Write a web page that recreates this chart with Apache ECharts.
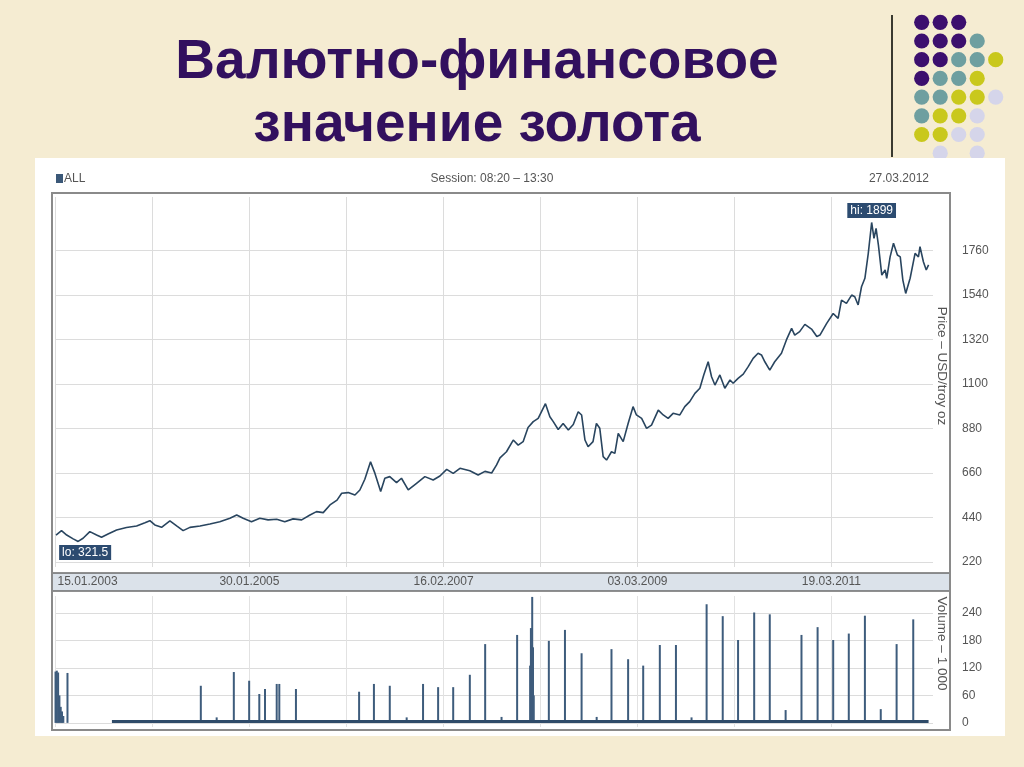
<!DOCTYPE html>
<html><head><meta charset="utf-8">
<script src="https://cdn.jsdelivr.net/npm/echarts@6/dist/echarts.min.js"></script>
<style>html,body{margin:0;padding:0;background:#f5ecd2;}#c{width:1024px;height:767px;}</style>
</head><body><div id="c"></div><script>
// ---- data ----
const priceDates = ['2003-01-17','2003-02-07','2003-02-27','2003-03-24','2003-04-12','2003-05-01','2003-05-27','2003-06-22','2003-07-11','2003-08-05','2003-09-07','2003-10-15','2003-11-23','2003-12-25',
'2004-01-13','2004-02-01','2004-02-27','2004-03-30','2004-04-25','2004-05-20','2004-06-15','2004-07-24','2004-08-31','2004-10-08','2004-11-16','2004-12-12',
'2005-01-06','2005-02-07','2005-03-11','2005-04-12','2005-05-15','2005-06-15','2005-07-17','2005-08-19','2005-09-20','2005-10-15','2005-11-10','2005-12-06',
'2006-01-02','2006-01-20','2006-02-14','2006-03-12','2006-03-31','2006-04-19','2006-05-11','2006-05-28','2006-06-19','2006-07-05','2006-07-24','2006-08-19','2006-09-07','2006-10-03','2006-11-04','2006-12-06',
'2007-01-07','2007-02-02','2007-02-28','2007-03-25','2007-04-20','2007-05-28','2007-06-29','2007-07-25','2007-08-20','2007-09-08','2007-09-21','2007-10-16','2007-11-11','2007-11-30','2007-12-19',
'2008-01-07','2008-01-27','2008-02-15','2008-03-14','2008-03-31','2008-04-13','2008-05-02','2008-05-21','2008-06-10','2008-06-29','2008-07-18','2008-07-31','2008-08-13','2008-08-25','2008-09-13','2008-09-26','2008-10-09','2008-10-22','2008-11-04','2008-11-23','2008-12-06','2008-12-19',
'2009-01-07','2009-01-26','2009-02-14','2009-02-27','2009-03-19','2009-04-07','2009-04-26','2009-05-22','2009-06-10','2009-06-29','2009-07-18','2009-08-13','2009-09-01','2009-09-20','2009-10-10','2009-10-29','2009-11-13','2009-11-30','2009-12-13','2009-12-26',
'2010-01-14','2010-02-02','2010-02-22','2010-03-06','2010-03-25','2010-04-14','2010-05-03','2010-05-22','2010-06-10','2010-06-23','2010-07-06','2010-07-25','2010-08-13','2010-09-08','2010-09-27','2010-10-17','2010-10-29','2010-11-17','2010-12-07',
'2011-01-03','2011-01-22','2011-02-03','2011-03-01','2011-03-26','2011-04-14','2011-04-27','2011-05-16','2011-06-05','2011-06-17','2011-06-30','2011-07-13','2011-07-26','2011-08-08','2011-08-21','2011-08-30','2011-09-07','2011-09-16','2011-09-29','2011-10-12','2011-10-18','2011-10-31','2011-11-13','2011-11-28','2011-12-09','2011-12-19','2011-12-30',
'2012-01-16','2012-02-04','2012-02-17','2012-02-23','2012-03-07','2012-03-18','2012-03-27'];
const priceValues = [353,375,353,334,321.5,337,370,353,342,358,378,390,398,414,
424,403,391,423,398,375,391,398,408,419,436,452,
436,419,436,428,431,419,433,428,452,469,464,502,
526,560,563,551,576,629,715,658,568,634,642,612,634,576,609,642,
625,645,678,658,683,671,650,668,660,700,735,765,823,798,815,
885,914,930,1003,938,914,875,905,873,900,963,947,823,790,815,905,881,741,724,765,757,856,
815,905,988,947,930,881,897,971,947,930,955,947,988,1013,1054,1079,1145,1210,1136,1095,
1145,1079,1120,1104,1128,1149,1186,1227,1252,1244,1210,1169,1210,1252,1318,1375,1342,1359,1395,
1370,1335,1342,1400,1449,1425,1515,1499,1540,1532,1491,1581,1623,1746,1899,1820,1870,1787,1639,1664,1623,1729,1796,1738,1729,1614,1548,
1623,1746,1729,1779,1705,1664,1689];

const volumeDates = ['2003-01-15','2003-01-20','2003-01-25','2003-01-30','2003-02-04','2003-02-09','2003-02-14','2003-03-02',
'2004-07-27','2004-09-26','2004-12-01',
'2005-01-29','2005-03-09','2005-03-31','2005-05-15','2005-05-25','2005-07-28',
'2006-03-28','2006-05-24','2006-07-24','2006-09-27','2006-11-29',
'2007-01-26','2007-03-25','2007-05-28','2007-07-26','2007-09-27','2007-11-26',
'2008-01-15','2008-01-18','2008-01-21','2008-01-23','2008-01-26','2008-01-29','2008-03-27','2008-05-28','2008-07-31','2008-09-27','2008-11-23',
'2009-01-26','2009-03-25','2009-05-28','2009-07-29','2009-09-27','2009-11-24',
'2010-01-25','2010-03-25','2010-05-26','2010-07-25','2010-09-24','2010-11-24',
'2011-01-25','2011-03-26','2011-05-25','2011-07-26','2011-09-25','2011-11-25',
'2012-01-28'];
const volumeValues = [112,114,110,60,35,25,15,109,
81,12,111,
92,63,74,85,85,74,
68,85,81,12,85,
78,78,105,172,13,192,
125,207,170,275,165,60,179,203,152,13,161,
139,125,170,170,12,259,
233,181,241,237,28,192,
209,181,195,234,30,172,
226];
const volumeFloorDates = ['2003-08-20','2012-03-27'];
const volumeFloorValues = [3,3];

const priceTicks = [220,440,660,880,1100,1320,1540,1760];
const volumeTicks = [0,60,120,180,240];
const dateLabels = ['2003-01-15','2005-01-30','2007-02-16','2009-03-03','2011-03-19'];
const dateGridLines = ['2003-01-15','2004-01-22','2005-01-30','2006-02-07','2007-02-16','2008-02-23','2009-03-03','2010-03-11','2011-03-19'];
const xRange = ['2003-01-13','2012-04-13'];
const titleText = 'Валютно-финансовое\nзначение золота';
const headerLeft = 'ALL', headerMid = 'Session: 08:20 – 13:30', headerRight = '27.03.2012';
const priceName = 'Price – USD/troy oz', volumeName = 'Volume – 1 000';

// ---- helpers ----
const FONT = "'Liberation Sans', Arial, sans-serif";
const toTs = s => { const [y,m,d] = s.split('-').map(Number); return new Date(y, m-1, d).getTime(); };
const p2 = n => String(n).padStart(2,'0');
const fmt = v => { const d = new Date(v); return p2(d.getDate())+'.'+p2(d.getMonth()+1)+'.'+d.getFullYear(); };
const firstLabel = fmt(toTs(dateLabels[0]));
const zip = (a,b) => a.map((d,i)=>[toTs(d), b[i]]);

// decoration dots
const dotRows = ['PPP','PPPT','PPTTY','PTTY','TTYYL','TYYL','YYLL',' L L'];
const dotColors = {P:'#3c0f6e', T:'#6e9fa0', Y:'#c9c81c', L:'#d5d5ea'};
const dots = [];
dotRows.forEach((row,j)=>{ row.split('').forEach((c,i)=>{ if(dotColors[c]) dots.push({type:'circle', z:0, shape:{cx:921.7+18.5*i, cy:22.3+18.7*j, r:7.6}, style:{fill:dotColors[c]}}); }); });

const chart = echarts.init(document.getElementById('c'), null, {renderer:'canvas'});
const axisLab = {fontSize:12, color:'#555', fontFamily:FONT};
chart.setOption({
  animation:false,
  backgroundColor:'transparent',
  title:{text:titleText, left:472, top:26, textAlign:'center',
    textStyle:{fontSize:55, fontWeight:'bold', color:'#32105e', lineHeight:63, fontFamily:FONT}},
  graphic:[
    {type:'line', z:0, shape:{x1:892,y1:15,x2:892,y2:157}, style:{stroke:'#3a3a30', lineWidth:2}},
    ...dots,
    {type:'rect', z:1, shape:{x:35,y:158,width:970,height:578}, style:{fill:'#ffffff'}},
    {type:'rect', z:2, shape:{x:52,y:573,width:898,height:18}, style:{fill:'#dbe2ea', stroke:'#6c6c6c', lineWidth:1.6}},
    {type:'rect', z:9, shape:{x:52,y:193,width:898,height:537}, style:{fill:null, stroke:'#8a8a8a', lineWidth:2}},
    {type:'rect', z:9, shape:{x:56,y:174,width:7,height:9}, style:{fill:'#3b5878'}},
    {type:'text', z:9, style:{x:64,y:179,text:headerLeft, verticalAlign:'middle', fill:'#555', font:'12px '+FONT}},
    {type:'text', z:9, style:{x:492,y:179,text:headerMid, align:'center', verticalAlign:'middle', fill:'#555', font:'12px '+FONT}},
    {type:'text', z:9, style:{x:929,y:179,text:headerRight, align:'right', verticalAlign:'middle', fill:'#555', font:'12px '+FONT}}
  ],
  grid:[
    {left:55, right:91, top:197, height:370},
    {left:55, right:91, top:596, height:131}
  ],
  xAxis:[
    {type:'value', gridIndex:0, z:3, min:toTs(xRange[0]), max:toTs(xRange[1]),
      axisLine:{show:false}, axisTick:{show:false, customValues:dateGridLines.map(toTs)},
      splitLine:{show:true, lineStyle:{color:'#dcdcdc', width:1}},
      axisLabel:{...axisLab, margin:9, customValues:dateLabels.map(toTs),
        formatter:v=>{ const s=fmt(v); return s===firstLabel ? '{a|'+s+'}' : s; },
        rich:{a:{...axisLab, padding:[0,0,0,64]}}}},
    {type:'value', gridIndex:1, z:3, min:toTs(xRange[0]), max:toTs(xRange[1]),
      axisLine:{show:false}, axisTick:{show:false, customValues:dateGridLines.map(toTs)},
      splitLine:{show:true, lineStyle:{color:'#e2e2e2', width:1}},
      axisLabel:{show:false}}
  ],
  yAxis:[
    {type:'value', gridIndex:0, z:3, position:'right', min:195, max:2025,
      axisLine:{show:false}, axisTick:{show:false, customValues:priceTicks},
      splitLine:{show:true, lineStyle:{color:'#dcdcdc', width:1}},
      axisLabel:{...axisLab, margin:29, customValues:priceTicks, formatter:v=>String(v)},
      name:priceName, nameLocation:'middle', nameRotate:-90, nameGap:2, nameMoveOverlap:false,
      nameTextStyle:{...axisLab, fontSize:13.5, color:'#555', padding:[0,32,0,0]}},
    {type:'value', gridIndex:1, z:3, position:'right', min:-9, max:277,
      axisLine:{show:false}, axisTick:{show:false, customValues:volumeTicks},
      splitLine:{show:true, lineStyle:{color:'#dcdcdc', width:1}},
      axisLabel:{...axisLab, margin:29, customValues:volumeTicks, formatter:v=>String(v)},
      name:volumeName, nameLocation:'middle', nameRotate:-90, nameGap:2, nameMoveOverlap:false,
      nameTextStyle:{...axisLab, fontSize:13.5, color:'#555', padding:[0,36,0,0]}}
  ],
  series:[
    {type:'line', name:'Price', xAxisIndex:0, yAxisIndex:0, z:4, data:zip(priceDates, priceValues),
      showSymbol:false, lineStyle:{color:'#29455f', width:1.6},
      markPoint:{symbol:'rect', symbolSize:1, itemStyle:{color:'rgba(0,0,0,0)'},
        label:{show:true, color:'#fff', backgroundColor:'#2c4b70', padding:[2,3,1,3], fontSize:12, fontFamily:FONT},
        data:[
          {type:'max', valueDim:'y', label:{position:'top', distance:4, formatter:p=>'hi: '+p.value}},
          {type:'min', valueDim:'y', label:{position:'bottom', distance:3, offset:[7,0], formatter:p=>'lo: '+p.value}}
        ]}},
    {type:'bar', name:'Volume', xAxisIndex:1, yAxisIndex:1, z:4, data:zip(volumeDates, volumeValues),
      barWidth:2, itemStyle:{color:'#3e5c7c'}},
    {type:'line', name:'Volume floor', xAxisIndex:1, yAxisIndex:1, z:4, data:zip(volumeFloorDates, volumeFloorValues),
      showSymbol:false, lineStyle:{color:'#2f4b69', width:3}}
  ]
});
</script></body></html>
